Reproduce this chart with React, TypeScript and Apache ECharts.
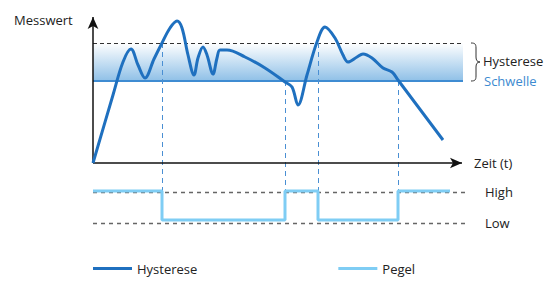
import React, { useEffect, useRef } from "react";
import * as echarts from "echarts";

// Zeit (arbitrary units) and Messwert
const zeit = [0, 20, 30, 38, 45, 52, 61, 69, 77, 84, 89, 95, 101, 105, 110, 114, 120, 124, 127, 134, 152, 172, 192, 199, 205, 214, 224, 232, 242, 250, 255, 264, 270, 279, 290, 299, 305, 350];
const messwert = [0, 68, 101, 114, 98, 85, 104, 120, 135, 142, 135, 108, 88, 105, 116, 108, 89, 105, 113, 113, 106, 95, 81, 76, 58, 88, 121, 136, 125, 108, 101, 106, 109, 105, 95, 91, 83, 23];

// thresholds
const obereSchwelle = 120;
const untereSchwelle = 82;

// switching times and the level that was crossed
const schaltZeiten = [69, 192, 225, 305];
const schaltWerte = [120, 82, 120, 82];

// Pegel (output level)
const pegelHigh = -28;
const pegelLow = -57;
const pegelEnde = 357;
const pegelStart = 0;
const pegelZustaende = ["H", "L", "H", "L", "H"];

const highLinie = -29;
const lowLinie = -60;

const xMax = 372;
const yMin = -69;
const yMax = 148;

const FONT = "Open Sans";

export default function App() {
  const ref = useRef<HTMLDivElement>(null);

  useEffect(() => {
    if (!ref.current) return;
    echarts.graphic.registerShape(
      "brace",
      echarts.graphic.extendPath(
        "M0,0 C4,0 5,1 5,5 L5,14 C5,17 6,19 9,19 C6,19 5,21 5,24 L5,33 C5,37 4,38 0,38",
        {}
      )
    );
    const chart = echarts.init(ref.current, undefined, { renderer: "svg" });

    const curve = zeit.map((t, i) => [t, messwert[i]]);

    const lvl = (s: string) => (s === "H" ? pegelHigh : pegelLow);
    const bounds = [pegelStart, ...schaltZeiten, pegelEnde];
    const pegel: number[][] = [];
    pegelZustaende.forEach((s, i) => {
      pegel.push([bounds[i], lvl(s)]);
      pegel.push([bounds[i + 1], lvl(s)]);
    });

    const textStyle = { fontFamily: FONT, fontSize: 13, color: "#222" };
    const txt = (text: string, x: number, y: number, fill = "#222") => ({
      type: "text",
      x,
      y,
      style: { text, fill, fontSize: 13, fontFamily: FONT, textAlign: "left", textVerticalAlign: "middle", align: "left", verticalAlign: "middle" },
    });

    chart.setOption({
      animation: false,
      grid: { left: 93, top: 15, width: 372, height: 217 },
      xAxis: { type: "value", min: 0, max: xMax, show: false },
      yAxis: { type: "value", min: yMin, max: yMax, show: false },
      legend: {
        data: ["Hysterese", "Pegel"],
        left: 93,
        top: 262,
        padding: 0,
        icon: "rect",
        itemWidth: 39,
        itemHeight: 3,
        itemGap: 141,
        textStyle,
      },
      graphic: [
        txt("Messwert", 14, 20),
        txt("Zeit (t)", 474, 163),
        txt("Hysterese", 483, 61),
        txt("Schwelle", 484, 81, "#3d8ad0"),
        { type: "brace", x: 471, y: 43, style: { fill: "none", stroke: "#333", lineWidth: 1 } },
      ],
      series: [
        {
          name: "band",
          type: "line",
          data: [],
          silent: true,
          z: 1,
          markArea: {
            silent: true,
            itemStyle: {
              color: new echarts.graphic.LinearGradient(0, 0, 0, 1, [
                { offset: 0, color: "#ffffff" },
                { offset: 1, color: "#8fc0e7" },
              ]),
            },
            data: [[{ coord: [0, untereSchwelle] }, { coord: [370, obereSchwelle] }]],
          },
          markLine: {
            silent: true,
            symbol: "none",
            label: { show: false },
            data: [
              [
                { coord: [0, obereSchwelle], lineStyle: { color: "#333", type: [4, 3], width: 1 } },
                { coord: [370, obereSchwelle] },
              ],
              [
                { coord: [0, untereSchwelle], lineStyle: { color: "#3f8cd2", type: "solid", width: 2 } },
                { coord: [370, untereSchwelle] },
              ],
            ],
          },
        },
        {
          name: "levels",
          type: "line",
          data: [],
          silent: true,
          z: 2,
          markLine: {
            silent: true,
            symbol: "none",
            lineStyle: { color: "#666", type: [4, 4], width: 1.3 },
            label: { show: true, position: "end", formatter: "{b}", distance: 20, ...textStyle },
            data: [
              { yAxis: highLinie, name: "High" },
              { yAxis: lowLinie, name: "Low" },
            ],
          },
        },
        {
          name: "switch",
          type: "line",
          data: [],
          silent: true,
          z: 3,
          markLine: {
            silent: true,
            symbol: "none",
            label: { show: false },
            lineStyle: { color: "#4a8fd3", type: [5, 4], width: 1 },
            data: schaltZeiten.map((t, i) => [{ coord: [t, schaltWerte[i]] }, { coord: [t, pegelHigh] }]),
          },
        },
        {
          name: "axes",
          type: "line",
          data: [],
          silent: true,
          z: 4,
          markLine: {
            silent: true,
            symbol: ["none", "arrow"],
            symbolSize: [8, 12],
            label: { show: false },
            lineStyle: { color: "#111", type: "solid", width: 1.5 },
            data: [
              [{ coord: [0, 0] }, { coord: [0, 146] }],
              [{ coord: [0, 0] }, { coord: [369, 0] }],
            ],
          },
        },
        {
          name: "Pegel",
          type: "line",
          data: pegel,
          showSymbol: false,
          silent: true,
          z: 5,
          color: "#7fcdf4",
          lineStyle: { color: "#7fcdf4", width: 3 },
        },
        {
          name: "Hysterese",
          type: "line",
          data: curve,
          smooth: 0.35,
          showSymbol: false,
          silent: true,
          z: 6,
          color: "#1f70bf",
          lineStyle: { color: "#1f70bf", width: 3 },
        },
      ],
    });
    return () => chart.dispose();
  }, []);

  return <div ref={ref} style={{ width: 544, height: 281, position: "absolute", left: 0, top: 0 }} />;
}
